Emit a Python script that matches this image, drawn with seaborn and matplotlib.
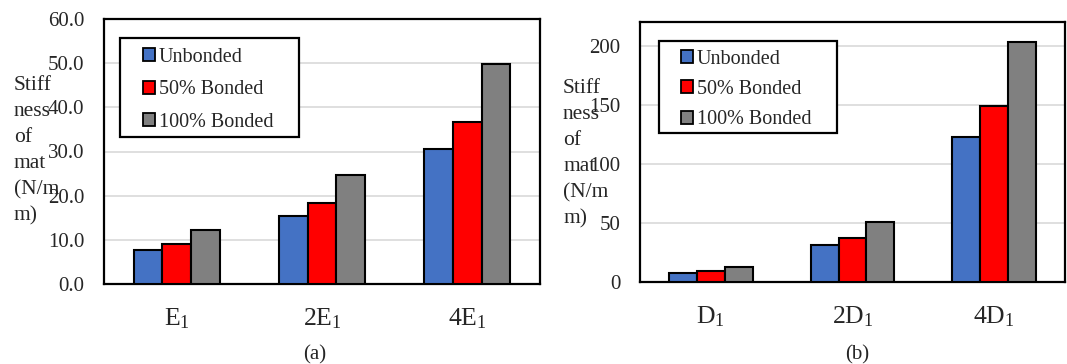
import matplotlib
matplotlib.use("Agg")
import matplotlib.pyplot as plt
import seaborn as sns
import pandas as pd

sns.set_theme(style="white")
plt.rcParams['font.family'] = ['Liberation Serif', 'DejaVu Serif']
plt.rcParams['mathtext.fontset'] = 'custom'
plt.rcParams['mathtext.rm'] = 'Liberation Serif'
plt.rcParams['mathtext.it'] = 'Liberation Serif:italic'

series = ["Unbonded", "50% Bonded", "100% Bonded"]
colors = ["#4472C4", "#FF0000", "#808080"]

cats_a = [r"E$_\mathrm{1}$", r"2E$_\mathrm{1}$", r"4E$_\mathrm{1}$"]
unbonded_a = [7.6, 15.3, 30.5]
bond50_a = [9.1, 18.4, 36.7]
bond100_a = [12.3, 24.7, 49.7]

cats_b = [r"D$_\mathrm{1}$", r"2D$_\mathrm{1}$", r"4D$_\mathrm{1}$"]
unbonded_b = [7.6, 31.3, 123.0]
bond50_b = [9.5, 36.9, 149.0]
bond100_b = [12.4, 50.4, 203.0]

ylabel = "Stiff\nness\nof\nmat\n(N/m\nm)"
captions = ["(a)", "(b)"]


def long_df(cats, a, b, c):
    rows = []
    for s, vals in zip(series, [a, b, c]):
        for cat, v in zip(cats, vals):
            rows.append({"cat": cat, "series": s, "value": v})
    return pd.DataFrame(rows)


W, H = 1067, 364
fig = plt.figure(figsize=(W / 100, H / 100), dpi=100)

panels = [
    dict(df=long_df(cats_a, unbonded_a, bond50_a, bond100_a), cats=cats_a,
         rect=[104 / W, 1 - 284 / H, 436 / W, 265 / H], ylim=(0, 60),
         ticks=[0, 10, 20, 30, 40, 50, 60], fmt="{:.1f}",
         leg=(143, 47.5), legspace=0.68, box=(119.5, 37.5, 299, 137.3),
         ylab=(14 / W, 1 - 151 / H), cap=(315 / W, 1 - 355 / H)),
    dict(df=long_df(cats_b, unbonded_b, bond50_b, bond100_b), cats=cats_b,
         rect=[640 / W, 1 - 282 / H, 425 / W, 260 / H], ylim=(0, 220),
         ticks=[0, 50, 100, 150, 200], fmt="{:.0f}",
         leg=(681, 49.5), legspace=0.57, box=(659, 41.3, 837, 132.7),
         ylab=(563 / W, 1 - 154 / H), cap=(857 / W, 1 - 355 / H)),
]

for i, p in enumerate(panels):
    ax = fig.add_axes(p["rect"])
    sns.barplot(data=p["df"], x="cat", y="value", hue="series", order=p["cats"],
                hue_order=series, palette=colors, width=0.59, saturation=1,
                edgecolor="black", linewidth=1.5, ax=ax, zorder=3)
    ax.set_ylim(*p["ylim"])
    ax.set_xlim(-0.5, 2.5)
    ax.set_yticks(p["ticks"])
    ax.set_yticklabels([p["fmt"].format(t) for t in p["ticks"]])
    ax.yaxis.grid(True, color="#D9D9D9", linewidth=1.2, zorder=0)
    ax.set_axisbelow(True)
    ax.set_xlabel("")
    ax.set_ylabel("")
    ax.tick_params(axis="y", labelsize=15, length=0, pad=14)
    ax.tick_params(axis="x", labelsize=18.5, length=0, pad=16)
    for sp in ax.spines.values():
        sp.set_visible(True)
        sp.set_color("black")
        sp.set_linewidth(1.6)
    ax.get_legend().remove()

    # legend frame
    x0, y0, x1, y1 = p["box"]
    rect = plt.Rectangle((x0 / W, 1 - y1 / H), (x1 - x0) / W, (y1 - y0) / H,
                         transform=fig.transFigure, facecolor="white",
                         edgecolor="black", linewidth=1.6, zorder=5)
    fig.add_artist(rect)
    handles = [plt.Rectangle((0, 0), 1, 1, facecolor=c, edgecolor="black", linewidth=1.3)
               for c in colors]
    leg = fig.legend(handles, series, loc="upper left",
                     bbox_to_anchor=(p["leg"][0] / W, 1 - p["leg"][1] / H),
                     bbox_transform=fig.transFigure, borderaxespad=0, borderpad=0,
                     fontsize=14.5, frameon=False, handlelength=0.62,
                     handleheight=0.62, handletextpad=0.15,
                     labelspacing=p["legspace"])
    leg.set_zorder(6)

    fig.text(p["ylab"][0], p["ylab"][1], ylabel, ha="left", va="center",
             fontsize=15.5, linespacing=1.5)
    fig.text(p["cap"][0], p["cap"][1], captions[i], ha="center", va="center",
             fontsize=15)

fig.savefig("out.png", dpi=100)
